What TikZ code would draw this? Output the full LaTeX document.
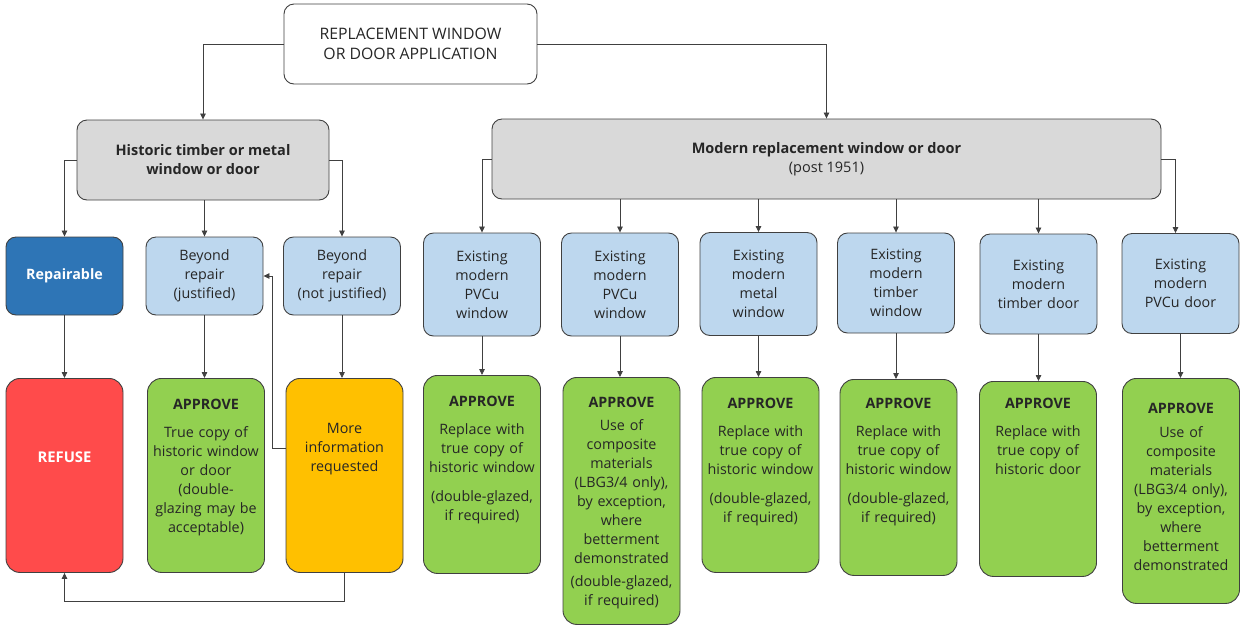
\documentclass[tikz,border=0pt]{standalone}
\usepackage{fontspec}
\setmainfont{Open Sans}
\usetikzlibrary{arrows.meta}

\definecolor{edgegray}{HTML}{404040}
\definecolor{titlegray}{HTML}{D9D9D9}
\definecolor{paleblue}{HTML}{BDD7EE}
\definecolor{deepblue}{HTML}{2E75B6}
\definecolor{refusered}{HTML}{FF4B4B}
\definecolor{okgreen}{HTML}{92D050}
\definecolor{infoorange}{HTML}{FFC000}

\tikzset{
  box/.style={draw=edgegray, line width=0.9pt, rounded corners=10pt, align=center,
    inner xsep=2pt, inner ysep=0pt, text=black!85,
    font=\fontsize{14.3}{19}\selectfont},
  title/.style={box, fill=titlegray, minimum height=80pt},
  choice/.style={box, fill=paleblue, text width=113pt, minimum height=#1},
  outcome/.style 2 args={box, rounded corners=14pt, anchor=north, text width=113pt,
    text height=#1, text depth=#2},
  arr/.style={draw=edgegray, line width=0.8pt, -{Triangle[length=6pt,width=5.5pt]}},
}

\begin{document}
\begin{tikzpicture}[x=1pt,y=-1pt]
\useasboundingbox (0,0) rectangle (1240,625);

% top of the tree
\node [box, fill=white, minimum width=253pt, minimum height=80pt, font=\fontsize{15.8}{19.5}\selectfont] (app) at (410.5,44)
  {REPLACEMENT WINDOW\\OR DOOR APPLICATION};
\node [title, minimum width=252pt, font=\fontsize{14.5}{19}\selectfont\bfseries] (hist) at (203,160)
  {Historic timber or metal\\window or door};
\node [title, minimum width=669pt, font=\fontsize{14.5}{19}\selectfont] (mod) at (826.5,159)
  {\textbf{Modern replacement window or door}\\(post 1951)};

% historic branch
\node [choice=78pt, fill=deepblue, text=white, font=\fontsize{14.3}{19}\selectfont\bfseries] (rep) at (64.5,276) {Repairable};
\node [choice=78pt] (bjus) at (204.5,276) {Beyond\\repair\\(justified)};
\node [choice=78pt] (bnot) at (342,276) {Beyond\\repair\\(not justified)};

\node [outcome={84pt}{110pt}, fill=refusered, text=white, font=\fontsize{14.8}{19}\selectfont\bfseries] (refuse) at (64.5,378) {REFUSE};
\node [outcome={31pt}{163pt}, fill=okgreen] (apphist) at (206,378)
  {\textbf{APPROVE}\\[9pt]True copy of\\historic window\\or door\\(double-\\glazing may be\\acceptable)};
\node [outcome={55pt}{139pt}, fill=infoorange] (moreinfo) at (344.5,378)
  {More\\information\\requested};

% modern branch
\node [choice=103pt] (pvc1) at (482,284.5) {Existing\\modern\\PVCu\\window};
\node [choice=103pt] (pvc2) at (620,284.5) {Existing\\modern\\PVCu\\window};
\node [choice=103pt] (metal) at (758.5,284) {Existing\\modern\\metal\\window};
\node [choice=100pt] (timberw) at (896,283) {Existing\\modern\\timber\\window};
\node [choice=100pt] (timberd) at (1038.5,284) {Existing\\modern\\timber door};
\node [choice=100pt] (pvcd) at (1180.5,283.5) {Existing\\modern\\PVCu door};

\node [outcome={31pt}{167pt}, fill=okgreen] (okpvc1) at (482,375)
  {\textbf{APPROVE}\\[9pt]Replace with\\true copy of\\historic window\\[10pt](double-glazed,\\if required)};
\node [outcome={30pt}{217pt}, fill=okgreen] (okpvc2) at (621.5,377)
  {\textbf{APPROVE}\\[4pt]Use of\\composite\\materials\\(LBG3/4 only),\\by exception,\\where\\betterment\\demonstrated\\[4pt](double-glazed,\\if required)};
\node [outcome={31pt}{164pt}, fill=okgreen] (okmetal) at (760.5,377)
  {\textbf{APPROVE}\\[9pt]Replace with\\true copy of\\historic window\\[10pt](double-glazed,\\if required)};
\node [outcome={29pt}{167pt}, fill=okgreen] (oktimberw) at (898.5,379)
  {\textbf{APPROVE}\\[9pt]Replace with\\true copy of\\historic window\\[10pt](double-glazed,\\if required)};
\node [outcome={27pt}{168pt}, fill=okgreen] (oktimberd) at (1038,381)
  {\textbf{APPROVE}\\[9pt]Replace with\\true copy of\\historic door};
\node [outcome={35pt}{190pt}, fill=okgreen] (okpvcd) at (1181,378)
  {\textbf{APPROVE}\\[5pt]Use of\\composite\\materials\\(LBG3/4 only),\\by exception,\\where\\betterment\\demonstrated};

% connectors
\draw [arr] (app.west) -| (hist.north);
\draw [arr] (app.east) -| (mod.north);
\draw [arr] (hist.west) -| (rep.north);
\draw [arr] (bjus.north |- hist.south) -- (bjus.north);
\draw [arr] (hist.east) -| (bnot.north);
\draw [arr] (rep.south) -- (rep.south |- refuse.north);
\draw [arr] (bjus.south) -- (bjus.south |- apphist.north);
\draw [arr] (bnot.south) -- (bnot.south |- moreinfo.north);
\draw [arr] ([yshift=27pt]moreinfo.west) -- ++(-13,0) |- (bjus.east);
\draw [arr] (moreinfo.south) -- ++(0,28) -| (refuse.south);

\draw [arr] (mod.west) -| (pvc1.north);
\foreach \n in {pvc2,metal,timberw,timberd}
  \draw [arr] (\n.north |- mod.south) -- (\n.north);
\draw [arr] (mod.east) -| ([xshift=-5pt]pvcd.north);
\foreach \a/\b in {pvc1/okpvc1,pvc2/okpvc2,metal/okmetal,timberw/oktimberw,timberd/oktimberd,pvcd/okpvcd}
  \draw [arr] (\a.south) -- (\a.south |- \b.north);
\end{tikzpicture}
\end{document}
